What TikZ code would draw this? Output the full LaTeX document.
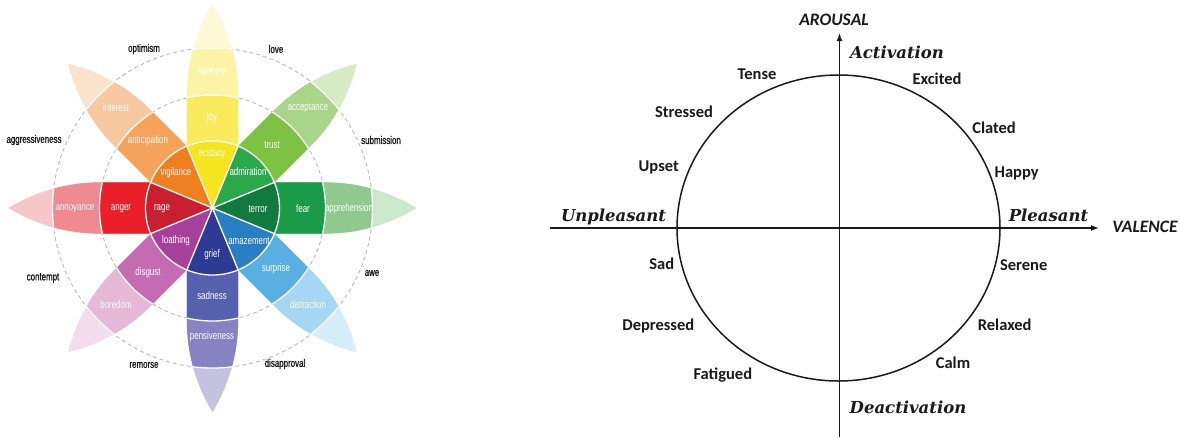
\documentclass[tikz,border=0pt]{standalone}
\usepackage{fontspec}
\usetikzlibrary{arrows.meta}
\newfontfamily\wheelfont[FakeStretch=0.72]{Liberation Sans}
\newfontfamily\wheelfontb[FakeStretch=0.72,FakeBold=1.2]{Liberation Sans}
\newfontfamily\calfont{Carlito}
\newfontfamily\serfont{DejaVu Serif}

% anger (red)
\definecolor{rA}{HTML}{C8202F}\definecolor{rB}{HTML}{E9202A}\definecolor{rC}{HTML}{F08A91}\definecolor{rD}{HTML}{F7C6C9}
% anticipation (orange)
\definecolor{oA}{HTML}{F07F1F}\definecolor{oB}{HTML}{F5A35B}\definecolor{oC}{HTML}{F8C8A0}\definecolor{oD}{HTML}{FBE3CE}
% joy (yellow)
\definecolor{yA}{HTML}{F5E41E}\definecolor{yB}{HTML}{F9EB5C}\definecolor{yC}{HTML}{FCF4A4}\definecolor{yD}{HTML}{FEFAD8}
% trust (light green)
\definecolor{lA}{HTML}{2BA84A}\definecolor{lB}{HTML}{7DC242}\definecolor{lC}{HTML}{A9D58A}\definecolor{lD}{HTML}{D4EBC4}
% fear (dark green)
\definecolor{gA}{HTML}{127A3E}\definecolor{gB}{HTML}{1A9B4A}\definecolor{gC}{HTML}{8FC98F}\definecolor{gD}{HTML}{CDE7CB}
% surprise (blue)
\definecolor{bA}{HTML}{2A7EC2}\definecolor{bB}{HTML}{5AAFE2}\definecolor{bC}{HTML}{A5D6F2}\definecolor{bD}{HTML}{D6EDFA}
% sadness (indigo)
\definecolor{iA}{HTML}{2E3B95}\definecolor{iB}{HTML}{5560AE}\definecolor{iC}{HTML}{8782C2}\definecolor{iD}{HTML}{C5C2E0}
% disgust (purple)
\definecolor{pA}{HTML}{A6409A}\definecolor{pB}{HTML}{C56BB2}\definecolor{pC}{HTML}{E6B8D8}\definecolor{pD}{HTML}{F3DDEC}
\definecolor{ink}{HTML}{1A1A1A}
\definecolor{dashgray}{HTML}{BBBBBB}

\newcommand{\petal}[5]{%
\begin{scope}[shift={(212.5,-208)},rotate=#1]
 \clip (0,0) -- (61.9,25.6) -- (113,25.6)
   arc[start angle=90,end angle=58.57,radius=174.5pt]
   arc[start angle=-58.57,end angle=-90,radius=174.5pt]
   -- (61.9,-25.6) -- cycle;
 \fill[#5] (0,0) circle (215pt);
 \fill[#4] (0,0) circle (160pt);
 \fill[#3] (0,0) circle (113pt);
 \fill[#2] (0,0) circle (67pt);
 \draw[wline] (0,0) circle (113pt) (0,0) circle (160pt);
\end{scope}}

\begin{document}
\begin{tikzpicture}[x=1pt,y=1pt,
  wline/.style={white,line width=1.3pt},
  wlab/.style={font=\wheelfont\fontsize{11}{11}\selectfont,text=white,inner sep=0pt},
  olab/.style={font=\wheelfontb\fontsize{11}{11}\selectfont,text=ink,inner sep=0pt},
  clab/.style={font=\calfont\bfseries\fontsize{16.5}{17}\selectfont,text=ink,anchor=base,inner sep=0pt},
  axlab/.style={font=\calfont\bfseries\itshape\fontsize{17.5}{18}\selectfont,text=ink,anchor=base,inner sep=0pt},
  qlab/.style={font=\serfont\bfseries\itshape\fontsize{16.5}{17}\selectfont,text=ink,anchor=base,inner sep=0pt},
  axis/.style={ink,line width=1.4pt,-{Latex[length=8pt,width=6pt]}}]
\useasboundingbox (0,0) rectangle (1180,-437);
\fill[white] (0,0) rectangle (1180,-437);

% ---------- Plutchik wheel ----------
\coordinate (wc) at (212.5,-208);
\draw[dashgray,line width=0.9pt,dash pattern=on 4pt off 3pt] (wc) circle (113pt) (wc) circle (160pt);

\petal{90}{yA}{yB}{yC}{yD}
\petal{45}{lA}{lB}{lC}{lD}
\petal{0}{gA}{gB}{gC}{gD}
\petal{-45}{bA}{bB}{bC}{bD}
\petal{-90}{iA}{iB}{iC}{iD}
\petal{-135}{pA}{pB}{pC}{pD}
\petal{180}{rA}{rB}{rC}{rD}
\petal{135}{oA}{oB}{oC}{oD}

\draw[wline] (wc) circle (67pt);
\foreach \a in {22.5,67.5,...,337.5} \draw[wline] (wc) -- ++(\a:67pt);

% inner labels
\node[wlab] (serenity) at (212,-72) {serenity};
\node[wlab] (joy) at (212,-118) {joy};
\node[wlab] (ecstacy) at (212,-154) {ecstacy};
\node[wlab] (interest) at (116,-108) {interest};
\node[wlab] (anticipation) at (148,-141) {anticipation};
\node[wlab] (vigilance) at (176,-173) {vigilance};
\node[wlab] (acceptance) at (308,-108) {acceptance};
\node[wlab] (trust) at (272,-145) {trust};
\node[wlab] (admiration) at (248,-172) {admiration};
\node[wlab] (annoyance) at (75,-209) {annoyance};
\node[wlab] (anger) at (121,-209) {anger};
\node[wlab] (rage) at (162,-209) {rage};
\node[wlab] (terror) at (258,-209) {terror};
\node[wlab] (fear) at (303,-209) {fear};
\node[wlab] (apprehension) at (349,-209) {apprehension};
\node[wlab] (loathing) at (176,-241) {loathing};
\node[wlab] (grief) at (212,-255) {grief};
\node[wlab] (amazement) at (249,-241) {amazement};
\node[wlab] (disgust) at (148,-273) {disgust};
\node[wlab] (surprise) at (276,-269) {surprise};
\node[wlab] (boredom) at (116,-305) {boredom};
\node[wlab] (sadness) at (212,-296) {sadness};
\node[wlab] (distraction) at (308,-305) {distraction};
\node[wlab] (pensiveness) at (212,-337) {pensiveness};

% outer labels
\node[olab] (optimism) at (144,-49) {optimism};
\node[olab] (love) at (276,-49) {love};
\node[olab] (aggressiveness) at (34,-140) {aggressiveness};
\node[olab] (submission) at (381,-140) {submission};
\node[olab] (contempt) at (43,-278) {contempt};
\node[olab] (awe) at (372,-273) {awe};
\node[olab] (remorse) at (144,-365) {remorse};
\node[olab] (disapproval) at (285,-364) {disapproval};

% ---------- Circumplex model ----------
\coordinate (hl) at (550,-228);
\coordinate (hr) at (1099,-228);
\coordinate (vb) at (839.5,-437);
\coordinate (vt) at (839.5,-33);
\draw[ink,line width=1.5pt] (838.5,-228) ellipse [x radius=161.5pt,y radius=153pt];
\draw[axis] (hl) -- (hr);
\draw[axis] (vb) -- (vt);

\node[axlab] (arousal) at (834,-25) {AROUSAL};
\node[axlab] (valence) at (1145,-232.3) {VALENCE};
\node[qlab] (activation) at (897,-58.3) {Activation};
\node[qlab] (deactivation) at (908,-413) {Deactivation};
\node[qlab] (unpleasant) at (613.5,-221.7) {Unpleasant};
\node[qlab] (pleasant) at (1048.5,-221.7) {Pleasant};

\node[clab] (tense) at (757,-79) {Tense};
\node[clab] (stressed) at (684,-117.3) {Stressed};
\node[clab] (upset) at (658.7,-171.3) {Upset};
\node[clab] (excited) at (937,-84) {Excited};
\node[clab] (clated) at (994,-133) {Clated};
\node[clab] (happy) at (1016.6,-177) {Happy};
\node[clab] (sad) at (661.7,-269) {Sad};
\node[clab] (depressed) at (658.3,-330) {Depressed};
\node[clab] (fatigued) at (722.8,-379.3) {Fatigued};
\node[clab] (serene) at (1023.7,-270) {Serene};
\node[clab] (relaxed) at (1004.7,-330.7) {Relaxed};
\node[clab] (calm) at (953,-368) {Calm};
\end{tikzpicture}
\end{document}
